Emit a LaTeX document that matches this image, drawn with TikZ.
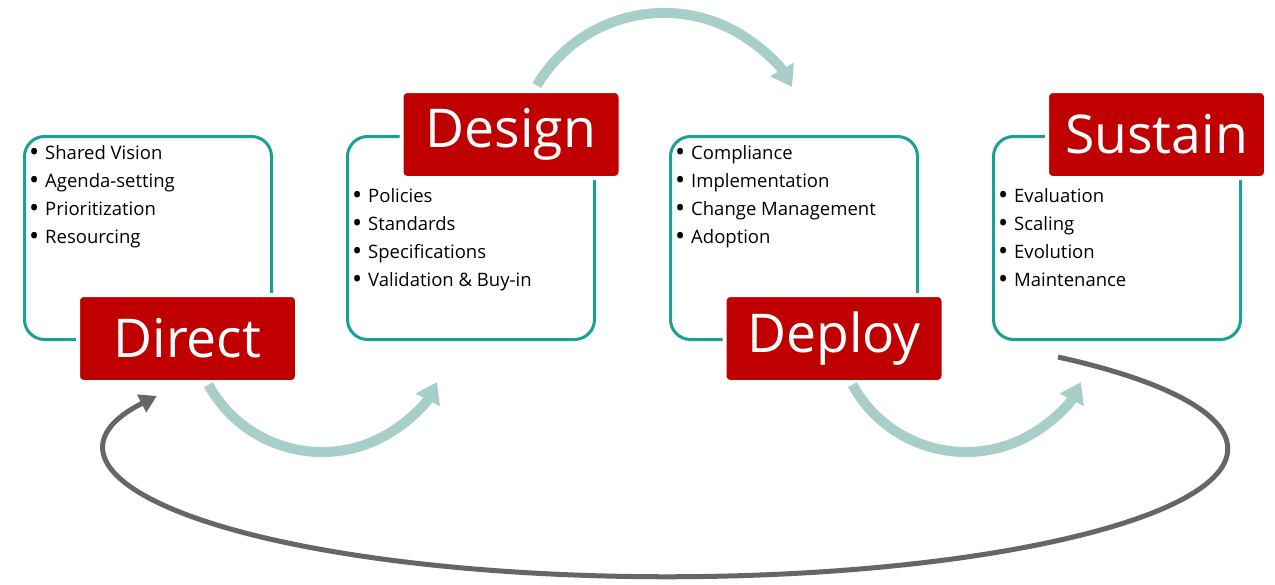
\documentclass[tikz,border=0pt]{standalone}
\usepackage{fontspec}
\setmainfont{Open Sans}
\usetikzlibrary{arrows.meta}
\definecolor{boxteal}{RGB}{26,160,150}
\definecolor{arrowteal}{RGB}{168,206,202}
\definecolor{titlered}{RGB}{192,0,0}
\definecolor{loopgray}{RGB}{102,102,102}
\tikzset{
  listbox/.style={draw=boxteal, line width=3pt, rounded corners=20pt, minimum width=247pt, minimum height=203pt, anchor=north west, inner sep=0pt},
  titlebox/.style={fill=titlered, draw=white, line width=4pt, rounded corners=6pt, text=white, minimum width=219pt, minimum height=87pt, inner sep=0pt, font=\fontsize{53.5}{53.5}\selectfont},
  bullet/.style={anchor=base west, inner sep=0pt, font=\fontsize{18.5}{28}\selectfont},
  flowarrow/.style={draw=arrowteal, line width=10pt, -{Triangle[length=20pt,width=26pt]}},
  looparrow/.style={draw=loopgray, line width=5pt, -{Triangle[length=17pt,width=19pt]}},
}
\newcommand{\itm}[1]{\makebox[15pt][l]{\hspace*{-1pt}\raisebox{-2.5pt}{\fontsize{27}{28}\selectfont •}}#1}
\begin{document}
\begin{tikzpicture}[x=1pt,y=-1pt]
\useasboundingbox[fill=white] (0,0) rectangle (1275,584);
% list boxes
\node[listbox] (box1) at (23,135) {};
\node[listbox] (box2) at (346,135) {};
\node[listbox] (box3) at (669,135) {};
\node[listbox] (box4) at (992,135) {};
% titles
\node[titlebox] (direct) at (187.5,338.5) {Direct};
\node[titlebox] (design) at (511,134.5) {Design};
\node[titlebox] (deploy) at (834,338.5) {Deploy};
\node[titlebox] (sustain) at (1156.5,134.5) {Sustain};
% bullet lists
\foreach \t [count=\i] in {Shared Vision, Agenda-setting, Prioritization, Resourcing}
  \node[bullet] (l1-\i) at (30,{159+28*(\i-1)}) {\itm{\t}};
\foreach \t [count=\i] in {Policies, Standards, Specifications, Validation \& Buy-in}
  \node[bullet] (l2-\i) at (353,{202+28*(\i-1)}) {\itm{\t}};
\foreach \t [count=\i] in {Compliance, Implementation, Change Management, Adoption}
  \node[bullet] (l3-\i) at (676,{159+28*(\i-1)}) {\itm{\t}};
\foreach \t [count=\i] in {Evaluation, Scaling, Evolution, Maintenance}
  \node[bullet] (l4-\i) at (999,{202+28*(\i-1)}) {\itm{\t}};
% flow arrows
\coordinate (a1s) at (208.4,384.7);
\coordinate (a2s) at (536.8,85.5);
\coordinate (a3s) at (852.4,384.7);
\draw[flowarrow] (a1s) arc[start angle=151.3, end angle=27.4, radius=129.5];
\draw[flowarrow] (a2s) arc[start angle=-149.4, end angle=-30, radius=147.8];
\draw[flowarrow] (a3s) arc[start angle=151.3, end angle=27.4, radius=129.5];
% return loop
\coordinate (loops) at (1058,357);
\draw[looparrow] (loops) arc[start angle=-45.8, end angle=204.4, x radius=560.5, y radius=128];
\end{tikzpicture}
\end{document}
